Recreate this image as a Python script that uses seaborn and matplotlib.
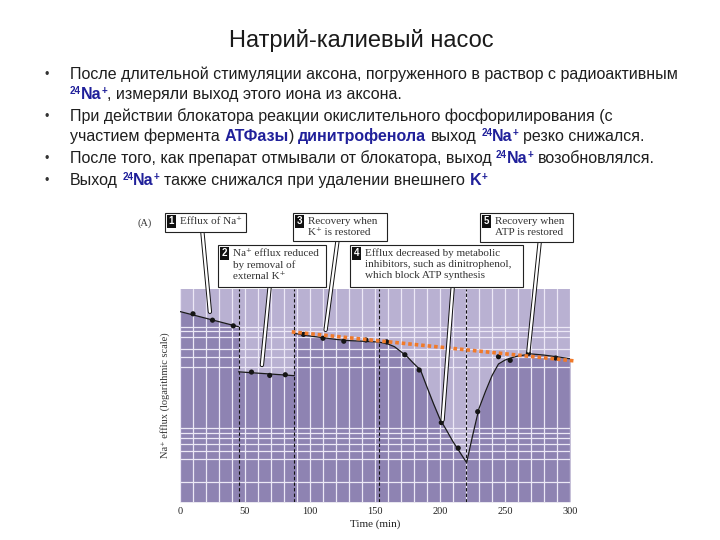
import matplotlib
matplotlib.use("Agg")
import matplotlib.pyplot as plt
import matplotlib.patheffects as pe
from matplotlib.patches import Rectangle
from matplotlib.ticker import FixedLocator, MultipleLocator, NullFormatter, NullLocator
import seaborn as sns

# %% data

# Na+ efflux, arbitrary units on a log axis
seg1_t = [0, 45]
seg1_v = [141, 100]
seg2_t = [45, 88]
seg2_v = [36, 33]
curve_t = [88, 95, 100, 110, 120, 130, 140, 153, 160, 165, 170, 175, 180, 185, 190,
           195, 200, 205, 210, 215, 220.5, 225, 230, 235, 240, 245, 250, 255, 260,
           270, 280, 290, 300]
curve_v = [86, 83, 81, 78, 75, 73, 72, 70.7, 67.6, 63.6, 56.8, 50.4, 43.2, 37.5, 25.5,
           17.5, 12.3, 9.6, 7.4, 5.9, 4.6, 8.4, 15.7, 23.1, 33, 43, 47, 49.5, 51.5,
           54, 52.6, 50.6, 48.4]

pts_t = [10, 25, 41, 55, 69, 81, 95, 110, 126, 143, 159, 173, 184, 201, 214, 229,
         245, 254, 268, 289]
pts_v = [134, 116, 102, 35.8, 33.2, 33.7, 84, 77, 72, 74, 71, 53, 37.5, 11.4, 6.4,
         14.6, 50.7, 46.7, 54.7, 49.2]

trend_t = [86, 304]
trend_v = [89, 46]

events = [45, 88, 153, 220]
xticks = [0, 50, 100, 150, 200, 250, 300]
grid_h = [3, 5, 6, 7, 8, 9, 10, 40, 50, 60, 80, 90, 100]

callout_num = ['1', '2', '3', '4', '5']
callout_txt = ['Efflux of Na\u207a',
               'Na\u207a efflux reduced\nby removal of\nexternal K\u207a',
               'Recovery when\nK\u207a is restored',
               'Efflux decreased by metabolic\ninhibitors, such as dinitrophenol,\nwhich block ATP synthesis',
               'Recovery when\nATP is restored']
callout_t = [23, 63, 112, 202, 268]
callout_v = [140, 42, 93, 12.1, 57]

title = 'Натрий-калиевый насос'
# (text, kind): n = normal, b = bold blue, s = superscript bold blue
lines = [
    [('После длительной стимуляции аксона, погруженного в раствор с радиоактивным', 'n')],
    [('24', 's'), ('Na', 'b'), ('+', 's'), (', измеряли выход этого иона из аксона.', 'n')],
    [('При действии блокатора реакции окислительного фосфорилирования (с', 'n')],
    [('участием фермента ', 'n'), ('АТФазы', 'b'), (') ', 'n'), ('динитрофенола', 'b'),
     (' выход ', 'n'), ('24', 's'), ('Na', 'b'), ('+', 's'), (' резко снижался.', 'n')],
    [('После того, как препарат отмывали от блокатора, выход ', 'n'), ('24', 's'),
     ('Na', 'b'), ('+', 's'), (' возобновлялся.', 'n')],
    [('Выход ', 'n'), ('24', 's'), ('Na', 'b'), ('+', 's'),
     (' также снижался при удалении внешнего ', 'n'), ('K', 'b'), ('+', 's')],
]
bullet_lines = [0, 2, 4, 5]

# %% layout (pixels of the 720x540 slide)
line_y = [79, 99, 121, 141, 163, 185]
box_xywh = [(165, 213, 81, 19), (218, 245, 108, 42), (293, 213, 94, 28),
            (350, 245, 173, 42), (480, 213, 93, 29)]
ptr_start = [(202, 228), (270, 283), (338, 237), (453, 283), (540, 239)]

sns.set_style('white')
plt.rcParams['font.family'] = ['Liberation Sans', 'DejaVu Sans']
serif = ['Liberation Serif', 'DejaVu Serif']

fig = plt.figure(figsize=(7.2, 5.4), dpi=100)
ax = fig.add_axes([180 / 720, 1 - 501.7 / 540, 390 / 720, 212.7 / 540])
ax.set_facecolor('#b9b1d2')
ax.set_yscale('log')
ymin, ymax = 1.9, 235
ax.set_xlim(0, 300)
ax.set_ylim(ymin, ymax)

# darker area under the efflux trace
fill_t = seg1_t + seg2_t + curve_t
fill_v = seg1_v + seg2_v + curve_v
ax.fill_between(fill_t, fill_v, ymin, color='#8e83b2', lw=0, zorder=0.8)

for tt, vv in [(seg1_t, seg1_v), (seg2_t, seg2_v), (curve_t, curve_v)]:
    sns.lineplot(x=tt, y=vv, ax=ax, color='#1a1a1a', lw=0.9,
                 estimator=None, sort=False, zorder=3)
sns.scatterplot(x=pts_t, y=pts_v, ax=ax, color='#151515', s=14,
                edgecolor='none', zorder=4)

ax.plot(trend_t, trend_v, color='#f07a2a', lw=2.6, ls=(0, (1, 0.8)),
        clip_on=False, zorder=5)

for t in events:
    ax.axvline(t, color='#111111', lw=0.8, ls=(0, (3, 2)), zorder=2.5)

ax.xaxis.set_major_locator(FixedLocator(xticks))
ax.xaxis.set_minor_locator(MultipleLocator(10))
ax.yaxis.set_major_locator(FixedLocator(grid_h))
ax.yaxis.set_minor_locator(NullLocator())
ax.yaxis.set_major_formatter(NullFormatter())
ax.grid(which='both', color='#ece8f6', lw=0.9)
ax.set_axisbelow('line')
ax.tick_params(which='both', length=0, labelsize=7.5, pad=4, colors='#222222')
for lab in ax.get_xticklabels():
    lab.set_family(serif)
for s in ax.spines.values():
    s.set_visible(False)
ax.set_xlabel('Time (min)', fontsize=8, family=serif, labelpad=2, color='#222222')
ax.set_ylabel('Na\u207a efflux (logarithmic scale)', fontsize=7.5, family=serif,
              labelpad=3, color='#333333')

# %% overlay in slide pixels for callouts and text
ov = fig.add_axes([0, 0, 1, 1])
ov.set_xlim(0, 720)
ov.set_ylim(540, 0)
ov.axis('off')

for i in range(len(callout_num)):
    ov.annotate('', xy=(callout_t[i], callout_v[i]), xycoords=ax.transData,
                xytext=ptr_start[i], textcoords='data',
                arrowprops=dict(arrowstyle='-', color='white', lw=1.7,
                                shrinkA=0, shrinkB=0,
                                path_effects=[pe.Stroke(linewidth=3.1, foreground='#111111'),
                                              pe.Normal()]),
                zorder=2)
    x, y, w, h = box_xywh[i]
    ov.add_patch(Rectangle((x, y), w, h, fc='white', ec='#222222', lw=0.8, zorder=3))
    ov.text(x + 6.5, y + 8.5, callout_num[i], color='white', fontsize=7,
            fontweight='bold', ha='center', va='center', zorder=4,
            bbox=dict(boxstyle='square,pad=0.2', fc='#111111', ec='none'))
    ov.text(x + 15, y + 3.5, callout_txt[i], fontsize=8, family=serif, va='top',
            ha='left', linespacing=1.3, color='#333333', zorder=4)

ov.text(137, 223, '(A)', fontsize=7.5, family=serif, va='center', color='#333333')

ov.text(361, 40, title, fontsize=17, ha='center', va='center', color='#1a1a1a')

renderer = fig.canvas.get_renderer()
body = 11.5
styles = {
    'n': dict(fontsize=body, color='#1e1e1e'),
    'b': dict(fontsize=body, color='#20209a', fontweight='bold'),
    's': dict(fontsize=body * 0.62, color='#20209a', fontweight='bold'),
}


def width_of(s, **kw):
    t = ov.text(0, 0, s, **kw)
    w = t.get_window_extent(renderer).width
    t.remove()
    return w


space_w = width_of('n n', **styles['n']) - width_of('nn', **styles['n'])


def rich_line(x, y, parts):
    cur = x
    for s, kind in parts:
        core = s.strip(' ')
        cur += (len(s) - len(s.lstrip(' '))) * space_w
        yy = y - 5 if kind == 's' else y
        t = ov.text(cur, yy, core, va='baseline', ha='left', **styles[kind])
        cur += t.get_window_extent(renderer).width
        cur += (len(s) - len(s.rstrip(' '))) * space_w


for i, parts in enumerate(lines):
    rich_line(70, line_y[i], parts)
    if i in bullet_lines:
        ov.text(47, line_y[i] - 4, '\u2022', fontsize=9, ha='center', va='center',
                color='#333333')

fig.savefig('out.png', dpi=100)
